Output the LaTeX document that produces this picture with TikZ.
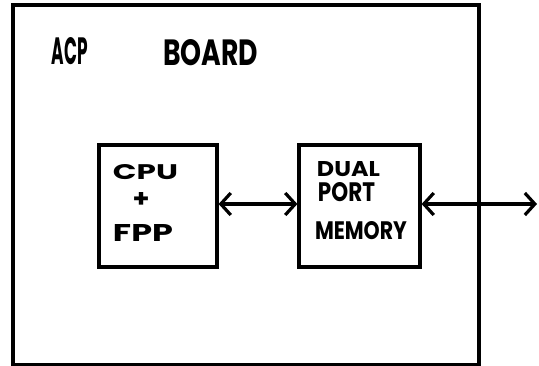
\documentclass[tikz,border=0pt]{standalone}
\usepackage{fontspec}
\setmainfont{Poppins}
\usetikzlibrary{arrows.meta}
\newcommand{\handtxt}[3]{\resizebox{#1pt}{#2pt}{\bfseries #3}}
\tikzset{
  blk/.style={draw, line width=3.2pt, inner sep=0pt, fill=none},
  lbl/.style={inner sep=0pt},
  link/.style={line width=3.2pt, {Straight Barb[length=10pt,width=22pt]}-{Straight Barb[length=10pt,width=22pt]}}
}
\begin{document}
\begin{tikzpicture}[x=1pt,y=-1pt]
\useasboundingbox (0,0) rectangle (539,366);
\node[blk, minimum width=466pt, minimum height=360pt] (board) at (246,185) {};
\node[blk, minimum width=118pt, minimum height=122pt] (cpu) at (158,206) {};
\node[blk, minimum width=121pt, minimum height=122pt] (mem) at (359.5,206) {};
\node[lbl] (acp) at (70,51.5) {\handtxt{36}{27}{ACP}};
\node[lbl] (brd) at (210.5,53) {\handtxt{95}{26}{BOARD}};
\node[lbl] (t1) at (145.5,172.5) {\handtxt{65}{15}{CPU}};
\node[lbl] (t2) at (141,200.5) {\handtxt{17}{15}{+}};
\node[lbl] (t3) at (143,233.5) {\handtxt{60}{17}{FPP}};
\node[lbl] (m1) at (348.5,169.5) {\handtxt{63}{15}{DUAL}};
\node[lbl] (m2) at (346.5,192.5) {\handtxt{57}{19}{PORT}};
\node[lbl] (m3) at (361,231) {\handtxt{92}{18}{MEMORY}};
\coordinate (ext) at (537,204);
\draw[link] (cpu.east |- 0,204) -- (mem.west |- 0,204);
\draw[link] (mem.east |- ext) -- (ext);
\end{tikzpicture}
\end{document}
